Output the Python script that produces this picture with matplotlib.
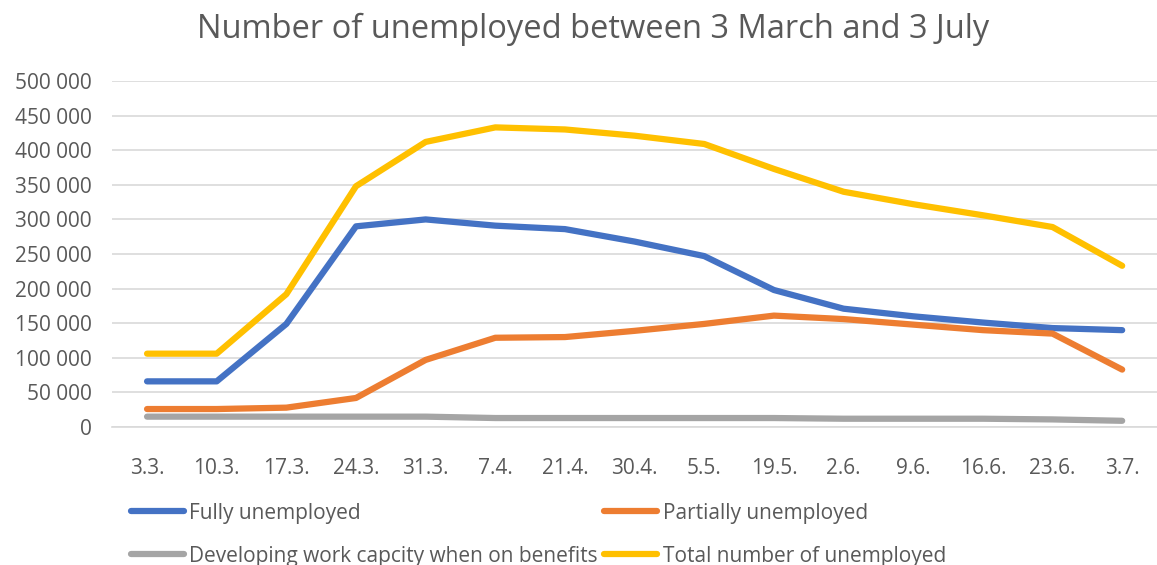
import matplotlib
matplotlib.use("Agg")
import matplotlib.pyplot as plt
from matplotlib.ticker import FuncFormatter

# data
dates = ["3.3.", "10.3.", "17.3.", "24.3.", "31.3.", "7.4.", "21.4.", "30.4.",
         "5.5.", "19.5.", "2.6.", "9.6.", "16.6.", "23.6.", "3.7."]
fully = [66000, 66000, 149000, 290000, 300000, 291000, 286000, 268000,
         247000, 198000, 171000, 160000, 151000, 143000, 140000]
partially = [26000, 26000, 28000, 42000, 97000, 129000, 130000, 139000,
             149000, 161000, 156000, 148000, 140000, 135000, 83000]
developing = [15000, 15000, 15000, 15000, 15000, 13000, 13000, 13000,
              13000, 13000, 12000, 12000, 12000, 11000, 9000]
total = [106000, 106000, 192000, 348000, 412000, 433000, 430000, 421000,
         409000, 373000, 340000, 322000, 306000, 289000, 233000]
yticks = list(range(0, 500001, 50000))

plt.rcParams['font.family'] = ['Open Sans', 'DejaVu Sans']

fig = plt.figure(figsize=(11.57, 5.65), dpi=100)
ax = fig.add_axes([0.097, 0.2442, 0.903, 0.6124])

x = list(range(len(dates)))
lw = 4.5
ax.plot(x, fully, color='#4472C4', lw=lw, label='Fully unemployed', solid_capstyle='round')
ax.plot(x, partially, color='#ED7D31', lw=lw, label='Partially unemployed', solid_capstyle='round')
ax.plot(x, developing, color='#A5A5A5', lw=lw, label='Developing work capcity when on benefits', solid_capstyle='round')
ax.plot(x, total, color='#FFC000', lw=lw, label='Total number of unemployed', solid_capstyle='round')

ax.set_xlim(-0.5, len(dates) - 0.5)
ax.set_ylim(0, 500000)
ax.set_yticks(yticks)
ax.yaxis.set_major_formatter(FuncFormatter(lambda v, p: f"{int(v):,}".replace(",", " ")))
ax.set_xticks(x)
ax.set_xticklabels(dates)
ax.grid(axis='y', color='#D9D9D9', lw=1.2)
ax.set_axisbelow(True)
for s in ['top', 'right', 'left']:
    ax.spines[s].set_visible(False)
ax.spines['bottom'].set_color('#D9D9D9')
ax.spines['bottom'].set_linewidth(1.2)
ax.tick_params(length=0, labelsize=15, colors='#595959')
ax.tick_params(axis='y', pad=15)
ax.tick_params(axis='x', pad=22)

fig.suptitle("Number of unemployed between 3 March and 3 July", fontsize=23.5,
             color='#595959', x=0.513, y=0.978, va='top')

handles, labels = ax.get_legend_handles_labels()
order = [0, 2, 1, 3]
leg = fig.legend([handles[i] for i in order], [labels[i] for i in order], ncol=2,
                 loc='lower left', bbox_to_anchor=(0.097, -0.036), frameon=False,
                 fontsize=15, handlelength=2.55, handletextpad=0.25,
                 columnspacing=0.3, labelspacing=1.05, labelcolor='#595959')

fig.savefig("out.png", dpi=100)
